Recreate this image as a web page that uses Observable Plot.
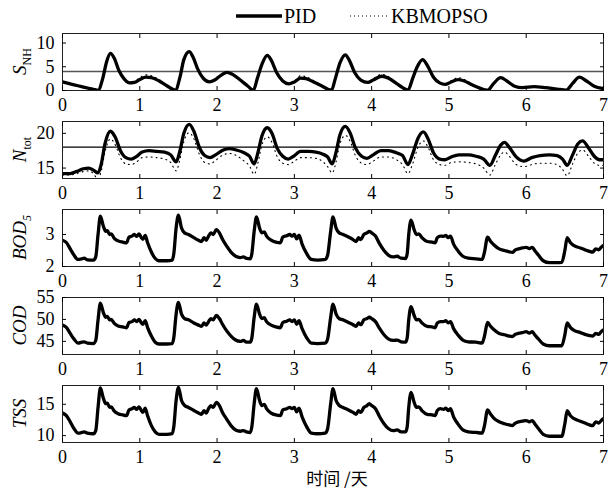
<!DOCTYPE html>
<html><head><meta charset="utf-8">
<script src="https://cdn.jsdelivr.net/npm/d3@7"></script>
<script src="https://cdn.jsdelivr.net/npm/@observablehq/plot@0.6"></script>
<style>
body{margin:0;background:#fff;}
#wrap{position:relative;width:616px;height:489px;font-family:'Liberation Serif','Times New Roman',serif;background:#fff;overflow:hidden;}
.panel{position:absolute;left:0;}
#xlab{position:absolute;left:237px;width:200px;top:466px;text-align:center;white-space:nowrap;line-height:24px;}
</style></head><body><div id="wrap"></div>
<script>
// ---------- data ----------
const seriesNames = ["PID", "KBMOPSO"];
const xTicks = [0, 1, 2, 3, 4, 5, 6, 7];
const xLabel = "时间 /天";

// S_NH
const tSNH = [0.00,0.10,0.20,0.30,0.40,0.46,0.52,0.57,0.62,0.67,0.73,0.80,0.87,0.93,1.00,1.08,1.15,1.25,1.35,1.46,1.52,1.57,1.64,1.69,1.75,1.82,1.90,1.97,2.05,2.13,2.20,2.30,2.40,2.47,2.52,2.58,2.65,2.70,2.77,2.85,2.93,3.00,3.08,3.15,3.25,3.35,3.48,3.53,3.59,3.66,3.71,3.78,3.86,3.95,4.02,4.13,4.22,4.32,4.40,4.47,4.53,4.59,4.66,4.72,4.80,4.88,4.95,5.03,5.12,5.20,5.30,5.40,5.50,5.58,5.67,5.75,5.85,5.95,6.10,6.25,6.40,6.52,6.60,6.69,6.78,6.88,7.00];
const snhPID = [1.8,1.4,1.0,0.6,0.25,0.05,2.5,6.0,7.8,6.8,4.2,2.4,1.6,1.7,2.3,2.8,2.7,2.0,1.0,0.05,2.8,6.5,8.2,7.0,4.5,2.6,1.8,2.2,3.2,3.8,3.4,2.2,0.9,0.05,2.5,5.5,7.4,6.4,3.8,2.0,1.4,1.8,2.6,2.5,1.8,1.0,0.05,2.5,5.8,7.5,6.4,3.8,2.2,1.7,2.2,3.0,2.6,1.5,0.6,0.05,2.5,5.0,6.5,5.3,2.8,1.6,1.3,1.8,2.3,2.0,1.2,0.5,0.05,1.5,2.7,2.0,0.9,0.6,0.8,0.6,0.3,0.1,1.5,2.8,2.0,0.9,0.4];
const snhKB  = [1.8,1.4,1.0,0.6,0.25,0.05,2.5,6.0,7.8,6.8,4.2,2.4,1.7,1.9,2.7,3.3,3.1,2.3,1.1,0.05,2.8,6.5,8.2,7.0,4.5,2.6,1.8,2.3,3.4,4.0,3.6,2.3,0.9,0.05,2.5,5.5,7.4,6.4,3.8,2.0,1.5,2.0,3.1,2.9,2.1,1.1,0.05,2.5,5.8,7.5,6.4,3.8,2.2,1.8,2.5,3.4,2.9,1.6,0.6,0.05,2.5,5.0,6.5,5.3,2.8,1.6,1.4,2.1,2.7,2.3,1.3,0.5,0.05,1.5,2.7,2.0,0.9,0.6,0.8,0.6,0.3,0.1,1.5,2.8,2.0,0.9,0.4];
const limitSNH = 4;

// N_tot
const tNtot = [0.00,0.10,0.18,0.27,0.34,0.40,0.46,0.50,0.55,0.62,0.68,0.75,0.82,0.89,0.95,1.03,1.12,1.22,1.32,1.40,1.47,1.52,1.57,1.64,1.70,1.77,1.84,1.91,1.98,2.08,2.16,2.25,2.35,2.42,2.48,2.53,2.58,2.65,2.71,2.78,2.85,2.92,2.99,3.08,3.18,3.28,3.37,3.43,3.49,3.54,3.59,3.66,3.72,3.79,3.87,3.94,4.02,4.12,4.22,4.32,4.40,4.47,4.53,4.60,4.67,4.73,4.80,4.88,4.95,5.03,5.13,5.25,5.35,5.45,5.53,5.60,5.67,5.72,5.78,5.87,5.97,6.07,6.18,6.30,6.40,6.47,6.53,6.60,6.67,6.73,6.80,6.88,6.95,7.00];
const ntotPID = [14.2,14.2,14.5,14.9,15.0,14.7,14.3,15.5,18.5,20.3,19.5,17.5,16.5,16.3,16.6,17.3,17.5,17.4,17.3,16.9,15.9,17.5,20.0,21.3,20.3,18.0,16.8,16.5,16.9,17.6,17.8,17.6,17.2,16.7,15.6,17.3,19.6,20.8,20.0,17.8,16.7,16.3,16.7,17.4,17.4,17.3,17.0,16.6,15.6,17.3,19.8,21.0,20.1,17.9,16.7,16.4,16.9,17.5,17.5,17.2,16.8,15.5,17.0,19.3,20.2,19.2,17.2,16.3,16.2,16.6,16.9,16.9,16.7,16.3,15.4,16.8,18.3,18.7,18.0,16.6,16.0,16.5,16.8,16.9,16.8,16.3,15.4,16.9,18.5,18.9,18.0,16.7,16.2,16.2];
const ntotKB  = [14.0,14.0,14.2,14.5,14.6,14.2,13.4,14.5,17.3,19.2,18.4,16.5,15.6,15.5,15.8,16.5,16.6,16.5,16.3,15.8,14.6,16.3,18.8,20.1,19.2,17.0,15.8,15.6,16.1,16.9,17.1,16.8,16.0,15.3,14.1,15.8,18.3,19.5,18.7,16.6,15.7,15.5,15.9,16.5,16.5,16.4,15.9,15.2,14.3,15.9,18.5,19.7,18.9,16.8,15.7,15.5,16.0,16.6,16.6,16.2,15.5,14.2,15.6,18.0,18.9,18.0,16.2,15.5,15.4,15.8,15.9,15.8,15.6,15.0,14.0,15.5,16.9,17.3,16.7,15.5,15.2,15.5,15.7,15.7,15.5,14.8,13.9,15.6,17.2,17.6,16.8,15.7,15.4,15.4];
const limitNtot = 18;

// effluent BOD5 / COD / TSS (PID and KBMOPSO coincide)
const tEff = [0.00,0.05,0.10,0.15,0.20,0.25,0.28,0.32,0.40,0.43,0.46,0.49,0.53,0.56,0.58,0.61,0.63,0.67,0.72,0.78,0.83,0.86,0.90,0.93,0.96,0.99,1.02,1.04,1.07,1.10,1.15,1.20,1.25,1.35,1.42,1.44,1.47,1.50,1.54,1.58,1.63,1.70,1.76,1.80,1.83,1.86,1.89,1.92,1.95,1.99,2.03,2.07,2.12,2.18,2.24,2.30,2.34,2.38,2.43,2.45,2.48,2.51,2.55,2.58,2.61,2.64,2.70,2.76,2.82,2.85,2.90,2.94,2.97,3.00,3.03,3.06,3.10,3.16,3.22,3.30,3.40,3.43,3.47,3.50,3.54,3.58,3.63,3.70,3.76,3.80,3.83,3.86,3.90,3.94,3.97,4.00,4.05,4.10,4.16,4.22,4.28,4.33,4.38,4.44,4.46,4.48,4.51,4.55,4.58,4.61,4.65,4.72,4.78,4.82,4.85,4.89,4.93,4.96,4.99,5.02,5.06,5.12,5.18,5.25,5.35,5.43,5.46,5.50,5.54,5.58,5.65,5.72,5.78,5.82,5.86,5.90,5.95,6.00,6.04,6.08,6.11,6.16,6.22,6.30,6.40,6.46,6.50,6.53,6.57,6.62,6.70,6.76,6.82,6.86,6.90,6.94,6.97,7.00];
const bod5 = [2.82,2.75,2.55,2.35,2.22,2.24,2.26,2.21,2.20,2.30,3.00,3.57,3.25,3.10,3.12,3.00,3.02,2.88,2.80,2.76,2.74,2.92,2.95,3.00,2.94,3.02,2.90,2.85,2.97,2.75,2.45,2.25,2.18,2.18,2.20,2.40,3.20,3.60,3.20,3.05,3.00,2.90,2.82,2.78,2.90,2.82,2.95,3.05,3.00,3.15,3.05,2.85,2.65,2.45,2.32,2.28,2.30,2.25,2.24,2.40,3.10,3.55,3.20,3.05,3.08,2.95,2.82,2.76,2.74,2.92,2.96,3.00,2.95,3.00,2.86,2.98,2.70,2.40,2.22,2.20,2.22,2.35,3.10,3.55,3.20,3.05,3.00,2.92,2.84,2.78,2.90,2.84,3.00,3.05,3.10,3.05,2.95,2.72,2.50,2.35,2.30,2.32,2.26,2.25,2.40,3.00,3.45,3.15,3.00,3.02,2.90,2.78,2.76,2.74,2.90,2.95,2.94,2.97,2.90,2.95,2.70,2.48,2.32,2.26,2.24,2.22,2.45,2.92,2.78,2.68,2.55,2.50,2.46,2.44,2.52,2.55,2.58,2.60,2.56,2.60,2.50,2.35,2.18,2.12,2.12,2.13,2.50,2.90,2.75,2.65,2.58,2.52,2.47,2.45,2.55,2.52,2.60,2.66];
const cod = [48.7,48.2,46.8,45.5,44.6,44.8,44.9,44.6,44.5,45.2,49.9,53.7,51.5,50.5,50.7,49.9,50.0,49.1,48.5,48.3,48.1,49.3,49.5,49.9,49.5,50.0,49.2,48.9,49.7,48.2,46.2,44.8,44.4,44.4,44.5,45.8,51.2,53.9,51.2,50.2,49.9,49.2,48.7,48.4,49.2,48.7,49.5,50.2,49.9,50.9,50.2,48.9,47.5,46.2,45.3,45.0,45.2,44.8,44.8,45.8,50.5,53.5,51.2,50.2,50.4,49.5,48.7,48.3,48.1,49.3,49.6,49.9,49.5,49.9,48.9,49.7,47.9,45.8,44.6,44.5,44.6,45.5,50.5,53.5,51.2,50.2,49.9,49.3,48.8,48.4,49.2,48.8,49.9,50.2,50.5,50.2,49.5,48.0,46.5,45.5,45.2,45.3,44.9,44.8,45.8,49.9,52.9,50.9,49.9,50.0,49.2,48.4,48.3,48.1,49.2,49.5,49.5,49.7,49.2,49.5,47.9,46.4,45.3,44.9,44.8,44.6,46.2,49.3,48.4,47.7,46.8,46.5,46.2,46.1,46.6,46.8,47.0,47.2,46.9,47.2,46.5,45.5,44.4,44.0,44.0,44.0,46.5,49.2,48.2,47.5,47.0,46.6,46.3,46.2,46.8,46.6,47.2,47.6];
const tss = [13.6,13.2,12.2,11.1,10.4,10.5,10.6,10.4,10.3,10.8,14.5,17.6,15.9,15.1,15.2,14.5,14.6,13.9,13.5,13.3,13.2,14.1,14.3,14.5,14.2,14.6,14.0,13.7,14.4,13.2,11.6,10.6,10.2,10.2,10.3,11.4,15.6,17.7,15.6,14.8,14.5,14.0,13.6,13.4,14.0,13.6,14.3,14.8,14.5,15.3,14.8,13.7,12.7,11.6,10.9,10.7,10.8,10.6,10.5,11.4,15.1,17.5,15.6,14.8,15.0,14.3,13.6,13.3,13.2,14.1,14.3,14.5,14.3,14.5,13.8,14.4,13.0,11.4,10.4,10.3,10.4,11.1,15.1,17.5,15.6,14.8,14.5,14.1,13.7,13.4,14.0,13.7,14.5,14.8,15.1,14.8,14.3,13.1,11.9,11.1,10.8,10.9,10.6,10.6,11.4,14.5,16.9,15.3,14.5,14.6,14.0,13.4,13.3,13.2,14.0,14.3,14.2,14.4,14.0,14.3,13.0,11.8,10.9,10.6,10.5,10.4,11.6,14.1,13.4,12.8,12.2,11.9,11.7,11.6,12.0,12.2,12.3,12.4,12.2,12.4,11.9,11.1,10.2,9.9,9.9,9.9,11.9,14.0,13.2,12.7,12.3,12.0,11.7,11.6,12.2,12.0,12.4,12.7];

// ---------- layout ----------
const W = 616, PH = 88, MT = 5, MB = 26, ML = 62, MR = 13;
const FONT = "'Liberation Serif', 'Times New Roman', serif";

const panels = [
  {domain:[0,12], ticks:[0,5,10], label:["S","NH"], subItalic:false, limit:limitSNH, limitStroke:"#555",
   lines:[{t:tSNH, v:snhKB, s:1}, {t:tSNH, v:snhPID, s:0}]},
  {domain:[13.5,21.7], ticks:[15,20], label:["N","tot"], subItalic:false, limit:limitNtot, limitStroke:"#000",
   lines:[{t:tNtot, v:ntotKB, s:1}, {t:tNtot, v:ntotPID, s:0}]},
  {domain:[2,3.78], ticks:[2,3], label:["BOD","5"], subItalic:true, limit:null,
   lines:[{t:tEff, v:bod5, s:1}, {t:tEff, v:bod5, s:0}]},
  {domain:[42,55], ticks:[45,50,55], label:["COD",""], subItalic:true, limit:null,
   lines:[{t:tEff, v:cod, s:1}, {t:tEff, v:cod, s:0}]},
  {domain:[8.9,18], ticks:[10,15], label:["TSS",""], subItalic:true, limit:null,
   lines:[{t:tEff, v:tss, s:1}, {t:tEff, v:tss, s:0}]}
];

const wrap = document.getElementById("wrap");

// legend
const leg = d3.select(wrap).append("svg").attr("width", W).attr("height", 30)
  .style("position","absolute").style("left","0px").style("top","0px")
  .style("font-family", FONT);
leg.append("line").attr("x1",236).attr("x2",282).attr("y1",16).attr("y2",16).attr("stroke","#000").attr("stroke-width",3.5);
leg.append("text").attr("x",284).attr("y",23).style("font-family",FONT).attr("font-size",20).text(seriesNames[0]);
leg.append("line").attr("x1",350).attr("x2",388).attr("y1",16).attr("y2",16).attr("stroke","#000").attr("stroke-width",1).attr("stroke-dasharray","1,3");
leg.append("text").attr("x",391).attr("y",23).style("font-family",FONT).attr("font-size",20).text(seriesNames[1]);

panels.forEach((p, i) => {
  const marks = [];
  if (p.limit != null) marks.push(Plot.ruleY([p.limit], {stroke: p.limitStroke, strokeWidth: 1.3}));
  p.lines.forEach(L => {
    const data = L.t.map((t, k) => ({t, v: L.v[k]}));
    const pid = L.s === 0;
    marks.push(Plot.line(data, {x: "t", y: "v", curve: "monotone-x", clip: true,
      stroke: "#000", strokeWidth: pid ? 3.3 : 1.1, strokeDasharray: pid ? null : "1,4",
      strokeLinejoin: "round"}));
  });
  marks.push(Plot.frame({stroke: "#222", strokeWidth: 1}));
  marks.push(Plot.axisX({anchor: "bottom", ticks: xTicks, tickSize: -4, tickPadding: 12, tickFormat: d => d, label: null}));
  marks.push(Plot.axisX({anchor: "top", ticks: xTicks, tickSize: -4, tickFormat: () => "", label: null}));
  marks.push(Plot.axisY({anchor: "left", ticks: p.ticks, tickSize: -4, tickPadding: 12, tickFormat: d => d, label: null}));
  marks.push(Plot.axisY({anchor: "right", ticks: p.ticks, tickSize: -4, tickFormat: () => "", label: null}));
  const chart = Plot.plot({
    width: W, height: PH, marginTop: MT, marginBottom: MB, marginLeft: ML, marginRight: MR,
    x: {domain: [0, 7]}, y: {domain: p.domain},
    style: {fontFamily: FONT, fontSize: "18px", color: "#000", background: "transparent", overflow: "visible"},
    marks
  });
  chart.classList.add("panel");
  chart.style.top = (28 + PH * i) + "px";
  const svg = d3.select(chart);
  const cy = MT + (PH - MT - MB) / 2;
  const txt = svg.append("text")
    .attr("transform", `translate(26,${cy}) rotate(-90)`)
    .attr("text-anchor", "middle").style("font-family", FONT).attr("font-size", 19).attr("fill", "#000");
  txt.append("tspan").attr("font-style", "italic").text(p.label[0]);
  if (p.label[1]) txt.append("tspan").attr("font-size", 12).attr("dy", 5)
    .attr("font-style", p.subItalic ? "italic" : "normal").text(p.label[1]);
  wrap.appendChild(chart);
});

const xl = document.createElement("div");
xl.id = "xlab";
xl.style.fontFamily = "'Noto Sans CJK SC', 'Liberation Serif', serif";
xl.style.fontSize = "17px";
xl.textContent = xLabel;
wrap.appendChild(xl);
</script>
</body></html>
